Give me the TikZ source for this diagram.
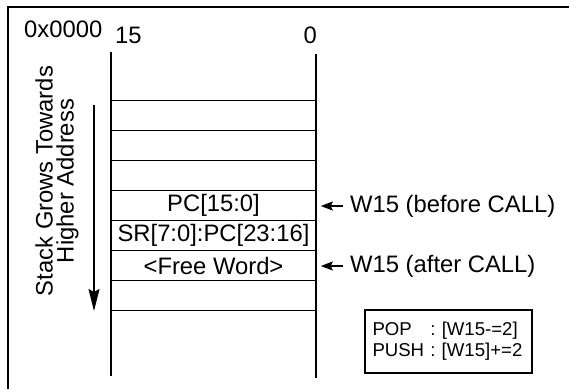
\documentclass[tikz,border=0pt]{standalone}
\usepackage{fontspec}
\setmainfont{Liberation Sans}
\usetikzlibrary{arrows.meta}
\newcommand{\stkfont}{\fontsize{23.8}{21}\selectfont}
\newcommand{\opsfont}{\fontsize{18.6}{21}\selectfont}

\begin{document}
\begin{tikzpicture}[x=1pt, y=-1pt,
        cell/.style={draw, line width=1.6pt, minimum width=205pt, minimum height=30pt, inner sep=0pt, font=\stkfont},
        lbl/.style={inner sep=0pt, font=\stkfont},
        ptr/.style={-{Stealth[length=12pt, width=9pt, inset=2pt]}, line width=1.6pt}]
        \useasboundingbox (0, 0) rectangle (569, 389);
        \draw [line width=2.2pt] (8, 389) -- (8, 7) -- (569, 7);
        % bit numbers and start address
        \node [lbl, anchor=base west] (addr) at (24, 37) {0x0000};
        \node [lbl, anchor=base west] (msb) at (115, 43) {15};
        \node [lbl, anchor=base east] (lsb) at (317, 43) {0};
        % stack words
        \draw [line width=1.6pt] (111, 52) -- (111, 376);
        \draw [line width=1.6pt] (316, 54) -- (316, 378);
        \foreach \i/\celltext in {1/{}, 2/{}, 3/{}, 4/{PC[15:0]}, 5/{SR[7:0]:PC[23:16]}, 6/{<Free Word>}, 7/{}}
            \node [cell] (c\i) at (213.5, 85.5 + 30*\i) {\celltext};
        % growth direction
        \node [lbl, rotate=90, align=center] (grow) at (57, 181) {Stack Grows Towards\\Higher Address};
        \coordinate (gtop) at (94, 105);
        \coordinate (gbot) at (94, 311);
        \draw [-{Stealth[length=22pt, width=11pt, inset=3pt]}, line width=1.6pt] (gtop) -- (gbot);
        % stack pointer
        \node [lbl, anchor=west, inner xsep=7pt] (wb) at (343, 206) {W15 (before CALL)};
        \node [lbl, anchor=west, inner xsep=7pt] (wa) at (343, 266) {W15 (after CALL)};
        \draw [ptr, shorten >=4pt] (wb.west) -- (wb.west -| c4.east);
        \draw [ptr, shorten >=4pt] (wa.west) -- (wa.west -| c6.east);
        % push and pop
        \node [draw, line width=2.7pt, minimum height=63pt, inner xsep=7.5pt, text width=152pt, align=left, font=\opsfont] (ops) at (448.5, 341.5) {POP\ \ \ : [W15-=2]\\PUSH : [W15]+=2};
    \end{tikzpicture}
\end{document}
